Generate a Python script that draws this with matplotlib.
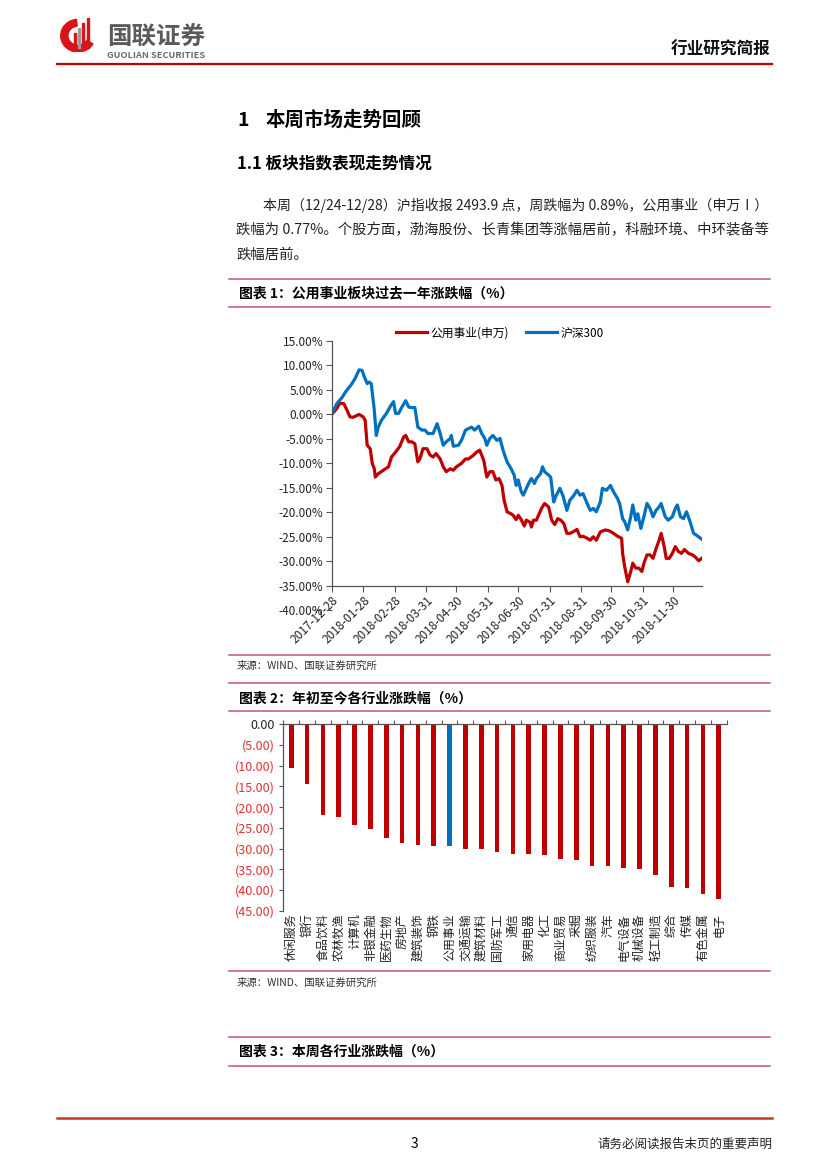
import numpy as np
import pandas as pd
import matplotlib
matplotlib.use('Agg')
import matplotlib.pyplot as plt
from matplotlib.patches import Wedge, Rectangle
from matplotlib.lines import Line2D

plt.rcParams['font.family'] = ['Noto Sans CJK SC', 'DejaVu Sans']
plt.rcParams['axes.unicode_minus'] = False

W, H = 827, 1169
RED = '#C00000'
BLUE = '#0070C0'
PINK = '#C5566E'
NEG = '#E03030'

# ---- chart 1: 公用事业 vs 沪深300, cumulative change (%) ----
start = pd.Timestamp('2017-12-28')
tick_dates = ['2017-12-28', '2018-01-28', '2018-02-28', '2018-03-31', '2018-04-30',
              '2018-05-31', '2018-06-30', '2018-07-31', '2018-08-31', '2018-09-30',
              '2018-10-31', '2018-11-30']

# days after 2017-12-28
util_days = [0, 5, 8, 12, 15, 18, 21, 25, 27, 31, 33, 35, 38, 40, 42, 43, 46, 51, 56, 59,
             63, 67, 71, 73, 76, 79, 82, 85, 87, 90, 94, 97, 100, 103, 107, 110, 113, 117,
             120, 123, 128, 132, 135, 140, 143, 146, 150, 153, 156, 159, 162, 165, 168, 170,
             173, 176, 179, 182, 184, 187, 190, 192, 196, 197, 199, 202, 204, 207, 210, 214,
             217, 220, 223, 226, 229, 232, 235, 238, 242, 245, 248, 252, 255, 258, 261, 265,
             270, 274, 278, 282, 286, 287, 289, 292, 295, 297, 300, 303, 306, 308, 311, 314,
             317, 320, 323, 325, 328, 330, 333, 336, 339, 342, 345, 348, 352, 356, 359, 362,
             365]
util_vals = [0.0, 1.2, 2.3, 2.2, 0.9, -0.5, -0.6, -0.2, 0.0, -0.5, -1.2, -6.3, -7.0, -10.0,
             -11.1, -12.8, -12.1, -11.4, -10.7, -8.7, -7.7, -6.6, -4.6, -4.3, -5.6, -5.6, -6.0,
             -9.7, -9.1, -7.0, -7.0, -8.3, -8.7, -8.0, -9.1, -10.7, -11.7, -11.1, -11.4, -10.7,
             -10.0, -9.1, -9.1, -8.3, -7.7, -7.3, -9.4, -12.8, -11.7, -11.7, -13.4, -13.1, -14.5,
             -17.5, -19.9, -20.2, -20.6, -21.5, -20.6, -21.5, -22.8, -21.6, -22.1, -23.0, -21.6,
             -21.6, -20.6, -19.2, -18.2, -18.9, -21.6, -22.5, -21.3, -21.6, -22.3, -24.3, -24.3,
             -24.0, -23.5, -25.0, -24.9, -25.3, -25.7, -25.0, -25.7, -24.0, -23.6, -23.8, -24.3,
             -24.9, -25.3, -28.4, -31.1, -34.2, -32.1, -30.4, -31.4, -31.4, -32.1, -30.4, -28.7,
             -28.7, -29.4, -27.4, -25.7, -24.3, -27.0, -29.4, -29.4, -28.4, -27.0, -28.0, -28.4,
             -27.6, -28.4, -28.7, -29.2, -29.9, -29.4]

hs300_days = [0, 5, 10, 14, 19, 23, 27, 30, 32, 35, 37, 39, 42, 44, 46, 49, 54, 58, 61, 63,
              66, 69, 73, 76, 79, 82, 85, 89, 92, 95, 100, 104, 107, 110, 113, 117, 118, 120,
              125, 128, 132, 135, 138, 141, 145, 148, 151, 153, 156, 159, 163, 166, 169, 173,
              177, 180, 182, 184, 187, 189, 192, 195, 197, 200, 202, 206, 208, 210, 214, 216,
              219, 221, 225, 228, 232, 235, 238, 242, 245, 248, 252, 255, 258, 261, 265, 267,
              271, 275, 278, 282, 284, 287, 289, 292, 295, 297, 300, 302, 305, 308, 311, 314,
              317, 320, 323, 325, 329, 332, 336, 339, 341, 344, 347, 350, 353, 357, 360, 365]
hs300_vals = [0.0, 2.2, 3.4, 4.7, 6.0, 7.3, 9.1, 9.0, 7.8, 6.3, 6.6, 6.3, 0.9, -4.3, -2.6,
              -1.2, 0.2, 1.7, 2.6, 0.2, 0.2, 1.4, 2.8, 1.5, 1.4, 1.4, -2.6, -3.2, -3.2, -3.9,
              -3.9, -1.9, -3.9, -6.3, -5.6, -4.9, -4.3, -6.5, -6.3, -5.3, -3.2, -2.9, -2.6, -3.2,
              -2.4, -3.9, -4.9, -6.3, -4.9, -4.3, -5.3, -4.9, -7.3, -9.7, -11.1, -12.4, -14.5,
              -13.4, -15.8, -16.5, -15.1, -13.8, -13.1, -14.1, -13.1, -12.1, -10.7, -11.7, -12.4,
              -12.8, -17.9, -16.8, -15.1, -16.5, -19.6, -17.5, -16.8, -15.5, -16.5, -16.2, -18.2,
              -19.6, -19.2, -19.9, -17.9, -15.1, -15.5, -14.5, -15.8, -17.2, -18.2, -21.3, -21.9,
              -23.6, -20.9, -18.5, -21.6, -20.3, -23.3, -20.9, -18.2, -19.2, -20.9, -19.6, -18.9,
              -18.2, -20.9, -21.6, -20.9, -19.2, -18.5, -20.9, -21.3, -19.9, -21.6, -24.3, -24.7,
              -25.5]

# ---- chart 2: 年初至今各行业涨跌幅 (%) ----
industries = ['休闲服务', '银行', '食品饮料', '农林牧渔', '计算机', '非银金融', '医药生物',
              '房地产', '建筑装饰', '钢铁', '公用事业', '交通运输', '建筑材料', '国防军工',
              '通信', '家用电器', '化工', '商业贸易', '采掘', '纺织服装', '汽车', '电气设备',
              '机械设备', '轻工制造', '综合', '传媒', '有色金属', '电子']
ytd_change = [-10.5, -14.5, -21.8, -22.3, -24.3, -25.2, -27.5, -28.7, -29.1, -29.5, -29.5,
              -30.0, -30.2, -30.9, -31.3, -31.3, -31.6, -32.6, -32.7, -34.2, -34.2, -34.8,
              -35.0, -36.5, -39.2, -39.5, -40.9, -42.2]
highlight = '公用事业'

fig = plt.figure(figsize=(W / 100, H / 100), dpi=100)


def fx(x):
    return x / W


def fy(y):
    return 1 - y / H


def hline(y, x0, x1, color=PINK, lw=1.1):
    fig.add_artist(Line2D([fx(x0), fx(x1)], [fy(y), fy(y)], color=color, lw=lw))


def txt(x, y, s, **kw):
    kw.setdefault('va', 'center')
    return fig.text(fx(x), fy(y), s, **kw)


def fit(t, width):
    r = fig.canvas.get_renderer()
    w = t.get_window_extent(r).width
    t.set_fontsize(t.get_fontsize() * width / w)


# ---- header ----
logo = fig.add_axes([fx(60), fy(52), 36 / W, 34 / H])
logo.set_xlim(0, 1)
logo.set_ylim(0, 1)
logo.axis('off')
logo.add_patch(Wedge((0.5, 0.48), 0.48, 95, 330, width=0.2, color='#D7141A'))
for bx, bh, bc in [(0.38, 0.55, '#D7141A'), (0.5, 0.7, '#9A9A9A'), (0.62, 0.85, '#D7141A'),
                   (0.74, 1.0, '#D7141A')]:
    logo.add_patch(Rectangle((bx, 0.12), 0.06, bh - 0.12, color=bc))

t = txt(107, 37, '国联证券', fontsize=17, fontweight='bold', color='#5A5A5A')
fit(t, 98)
t = txt(107, 55, 'GUOLIAN SECURITIES', fontsize=5, fontweight='bold', color='#6A6A6A')
fit(t, 98)
txt(770, 50, '行业研究简报', fontsize=12, fontweight='bold', ha='right', color='#111111')
hline(64, 57, 772, color=RED, lw=1.6)

# ---- headings and text ----
txt(237, 120, '1', fontsize=14, fontweight='bold')
txt(266, 120, '本周市场走势回顾', fontsize=14, fontweight='bold')
txt(237, 163, '1.1 板块指数表现走势情况', fontsize=12, fontweight='bold')

t = txt(263, 205, '本周（12/24-12/28）沪指收报 2493.9 点，周跌幅为 0.89%，公用事业（申万Ⅰ）',
        fontsize=10, color='#222222')
fit(t, 505)
t = txt(236, 230, '跌幅为 0.77%。个股方面，渤海股份、长青集团等涨幅居前，科融环境、中环装备等',
        fontsize=10, color='#222222')
fit(t, 532)
txt(236, 255, '跌幅居前。', fontsize=t.get_fontsize(), color='#222222')

# ---- chart 1 frame ----
hline(279, 229, 770)
txt(239, 293, '图表 1：公用事业板块过去一年涨跌幅（%）', fontsize=10, fontweight='bold')
hline(307, 229, 770)

ax1 = fig.add_axes([fx(331.7), fy(610.2), 370 / W, (610.2 - 341) / H])
# spines first: moving a spine resets the ticks
ax1.spines['top'].set_visible(False)
ax1.spines['right'].set_visible(False)
ax1.spines['bottom'].set_position(('data', -35))
ax1.spines['left'].set_bounds(-35, 15)
for s in ('left', 'bottom'):
    ax1.spines[s].set_color('#555555')
    ax1.spines[s].set_linewidth(0.9)

ax1.plot(util_days, util_vals, color=RED, lw=2.3, label='公用事业(申万)',
         solid_joinstyle='round')
ax1.plot(hs300_days, hs300_vals, color=BLUE, lw=2.3, label='沪深300', solid_joinstyle='round')
ax1.set_xlim(0, 365)
ax1.set_ylim(-40, 15)
yt = np.arange(-40, 16, 5)
ax1.set_yticks(yt)
ax1.set_yticklabels([f'{v:.2f}%' for v in yt], fontsize=8.5, color='#222222')
tick_pos = [(pd.Timestamp(d) - start).days for d in tick_dates]
ax1.set_xticks(tick_pos)
ax1.set_xticklabels(tick_dates, fontsize=8.5, color='#222222')
ax1.tick_params(direction='out', length=4, width=0.8, color='#555555', pad=2)
for lab in ax1.get_xticklabels():
    lab.set_rotation(45)
    lab.set_ha('right')
    lab.set_va('top')
    lab.set_rotation_mode('anchor')
ax1.legend(loc='center', bbox_to_anchor=(fx(500), fy(333)), bbox_transform=fig.transFigure,
           ncol=2, frameon=False, fontsize=8.5, handlelength=2.6, columnspacing=1.5,
           handletextpad=0.3)

hline(655, 229, 770)
txt(237, 666, '来源：WIND、国联证券研究所', fontsize=7.5, color='#333333')

# ---- chart 2 ----
hline(683, 229, 770)
txt(239, 698, '图表 2：年初至今各行业涨跌幅（%）', fontsize=10, fontweight='bold')
hline(711, 229, 770)

ax2 = fig.add_axes([fx(283.3), fy(910.7), (726.7 - 283.3) / W, (910.7 - 724.3) / H])
xs = np.arange(len(industries))
colors = [BLUE if n == highlight else RED for n in industries]
ax2.bar(xs, ytd_change, width=0.3, color=colors)
ax2.set_xlim(-0.5, len(industries) - 0.5)
ax2.set_ylim(-45, 0)
yt2 = np.arange(0, -46, -5)
ax2.set_yticks(yt2)
ax2.set_yticklabels(['0.00' if v == 0 else f'({abs(v):.2f})' for v in yt2], fontsize=9)
for lab, v in zip(ax2.get_yticklabels(), yt2):
    lab.set_color('#222222' if v == 0 else NEG)
ax2.xaxis.set_ticks_position('top')
ax2.set_xticks(np.arange(-0.5, len(industries), 1))
ax2.set_xticklabels([])
ax2.spines['bottom'].set_visible(False)
ax2.spines['right'].set_visible(False)
for s in ('left', 'top'):
    ax2.spines[s].set_color('#555555')
    ax2.spines[s].set_linewidth(0.9)
ax2.tick_params(direction='out', length=3, width=0.8, color='#555555', pad=3)
for i, name in enumerate(industries):
    ax2.text(i, -45.7, name, rotation=90, ha='center', va='top', fontsize=8.6,
             color='#222222')

hline(971, 229, 770)
txt(237, 983, '来源：WIND、国联证券研究所', fontsize=7.5, color='#333333')

# ---- chart 3 title ----
hline(1037, 229, 770)
txt(239, 1052, '图表 3：本周各行业涨跌幅（%）', fontsize=10, fontweight='bold')
hline(1066, 229, 770)

# ---- footer ----
hline(1118, 57, 772, color='#C0392B', lw=1.8)
txt(414, 1144, '3', fontsize=10, ha='center')
txt(772, 1144, '请务必阅读报告末页的重要声明', fontsize=9, ha='right', color='#222222')

fig.savefig('out.png', dpi=100)
